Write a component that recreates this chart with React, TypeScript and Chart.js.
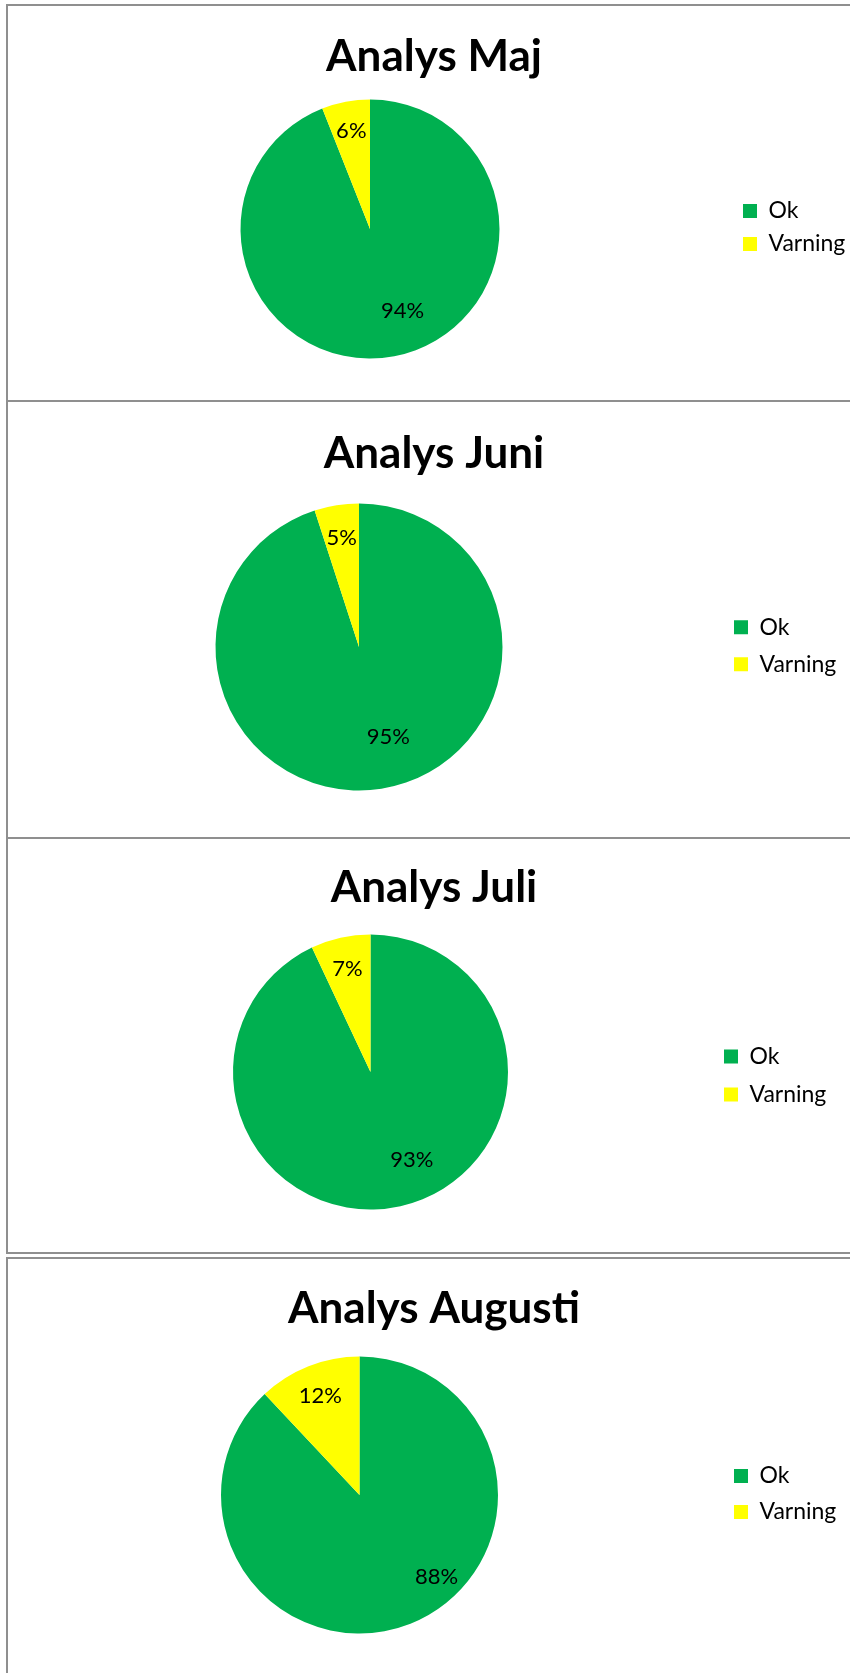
import React, { useEffect, useRef } from 'react';
import { Chart, registerables } from 'chart.js';

Chart.register(...registerables);

// ---- data ----
const categories = ['Ok', 'Varning'];
const chartTitles = ['Analys Maj', 'Analys Juni', 'Analys Juli', 'Analys Augusti'];
const okValues = [94, 95, 93, 88];
const varningValues = [6, 5, 7, 12];
const sliceColors = ['#00B050', '#FFFF00'];

// ---- layout (page coordinates) ----
const FONT = 'Lato, "Open Sans", sans-serif';
const TITLE_SIZE = 44;
const LEGEND_SIZE = 23;
const LABEL_SIZE = 22;
const LEGEND_BOX = 14;
const CANVAS_LEFT = -20;
const CANVAS_WIDTH = 900;
const TITLE_CX = 434;

const panels = [
  { top: 4, height: 398, cx: 370, cy: 229, r: 129.5, legendX: 743, legendGap: 10, legendMid: 227.5, titleY: 57 },
  { top: 400, height: 439, cx: 359, cy: 647, r: 143.5, legendX: 734, legendGap: 14, legendMid: 645.7, titleY: 454 },
  { top: 837, height: 417, cx: 370.5, cy: 1072, r: 137.5, legendX: 724, legendGap: 15, legendMid: 1075.5, titleY: 888 },
  { top: 1257, height: 500, cx: 359.5, cy: 1495, r: 138.5, legendX: 734, legendGap: 13, legendMid: 1494, titleY: 1309 },
];

const placementPlugin = {
  id: 'placement',
  afterLayout(chart: any, _args: any, opts: any) {
    if (!opts) return;
    const t = chart.titleBlock;
    if (t && opts.titleCx != null) {
      const w = t.right - t.left;
      t.left = opts.titleCx - w / 2;
      t.right = t.left + w;
    }
    const l = chart.legend;
    if (l && opts.legendMid != null) {
      const dy = opts.legendMid - (l.top + l.bottom) / 2;
      l.top += dy;
      l.bottom += dy;
    }
  },
};

const pieLabelPlugin = {
  id: 'pieLabels',
  afterDatasetsDraw(chart: any) {
    const ctx = chart.ctx;
    const meta = chart.getDatasetMeta(0);
    const data: number[] = chart.data.datasets[0].data;
    const total = data.reduce((a, b) => a + b, 0);
    ctx.save();
    ctx.font = `${LABEL_SIZE}px ${FONT}`;
    ctx.fillStyle = '#000';
    ctx.textAlign = 'center';
    ctx.textBaseline = 'middle';
    meta.data.forEach((arc: any, i: number) => {
      const { x, y, startAngle, endAngle, outerRadius } = arc.getProps(
        ['x', 'y', 'startAngle', 'endAngle', 'outerRadius'],
        true
      );
      const span = endAngle - startAngle;
      let angle: number;
      let dist: number;
      if (span > Math.PI) {
        const rest = 1 - span / (2 * Math.PI);
        angle = endAngle - Math.PI;
        dist = (0.55 + 2.2 * rest) * outerRadius;
      } else {
        angle = (startAngle + endAngle) / 2;
        dist = 0.77 * outerRadius;
      }
      const txt = Math.round((data[i] / total) * 100) + '%';
      ctx.fillText(txt, x + Math.cos(angle) * dist, y + Math.sin(angle) * dist);
    });
    ctx.restore();
  },
};

function PiePanel({ idx }: { idx: number }) {
  const ref = useRef<HTMLCanvasElement | null>(null);
  const p = panels[idx];

  useEffect(() => {
    const canvas = ref.current;
    if (!canvas) return;
    const mctx = canvas.getContext('2d')!;
    mctx.font = `${LEGEND_SIZE}px ${FONT}`;
    const textW = Math.max(...categories.map((c) => mctx.measureText(c).width));
    const itemW = LEGEND_BOX + LEGEND_SIZE / 2 + textW;
    const legendW = p.legendGap + itemW + 10;

    const areaRight = p.legendX - p.legendGap - CANVAS_LEFT;
    const areaLeft = 2 * (p.cx - CANVAS_LEFT) - areaRight;
    const padR = CANVAS_WIDTH - areaRight - legendW;
    const areaTop = p.cy - p.r - p.top;
    const areaBottom = p.cy + p.r - p.top;
    const padB = p.height - areaBottom;
    const lh = TITLE_SIZE * 1.2;
    const tpTop = p.titleY - p.top - lh / 2;
    const tpBottom = areaTop - lh - tpTop;

    const chart = new Chart(canvas, {
      type: 'pie',
      data: {
        labels: categories,
        datasets: [
          {
            data: [okValues[idx], varningValues[idx]],
            backgroundColor: sliceColors,
            borderWidth: 0,
          },
        ],
      },
      options: {
        responsive: false,
        animation: false,
        events: [],
        layout: { padding: { left: areaLeft, right: padR, top: 0, bottom: padB } },
        plugins: {
          title: {
            display: true,
            text: chartTitles[idx],
            color: '#000',
            font: { family: FONT, size: TITLE_SIZE, weight: 'bold' },
            padding: { top: tpTop, bottom: tpBottom },
          },
          legend: {
            position: 'right',
            fullSize: false,
            labels: {
              boxWidth: LEGEND_BOX,
              boxHeight: LEGEND_BOX,
              padding: p.legendGap,
              color: '#000',
              font: { family: FONT, size: LEGEND_SIZE },
            },
          },
          tooltip: { enabled: false },
          placement: { titleCx: TITLE_CX - CANVAS_LEFT, legendMid: p.legendMid - p.top },
        } as any,
      },
      plugins: [placementPlugin, pieLabelPlugin],
    });
    return () => chart.destroy();
  }, []);

  return (
    <>
      <div
        style={{
          position: 'absolute',
          left: 6,
          top: p.top,
          width: 900,
          height: p.height,
          border: '2px solid #8f8f8f',
          boxSizing: 'border-box',
        }}
      />
      <canvas
        ref={ref}
        width={CANVAS_WIDTH}
        height={p.height}
        style={{
          position: 'absolute',
          left: CANVAS_LEFT,
          top: p.top,
          width: CANVAS_WIDTH,
          height: p.height,
        }}
      />
    </>
  );
}

export default function App() {
  return (
    <div
      style={{
        position: 'absolute',
        left: 0,
        top: 0,
        width: 850,
        height: 1673,
        overflow: 'hidden',
        background: '#fff',
      }}
    >
      {panels.map((_, i) => (
        <PiePanel key={i} idx={i} />
      ))}
    </div>
  );
}
